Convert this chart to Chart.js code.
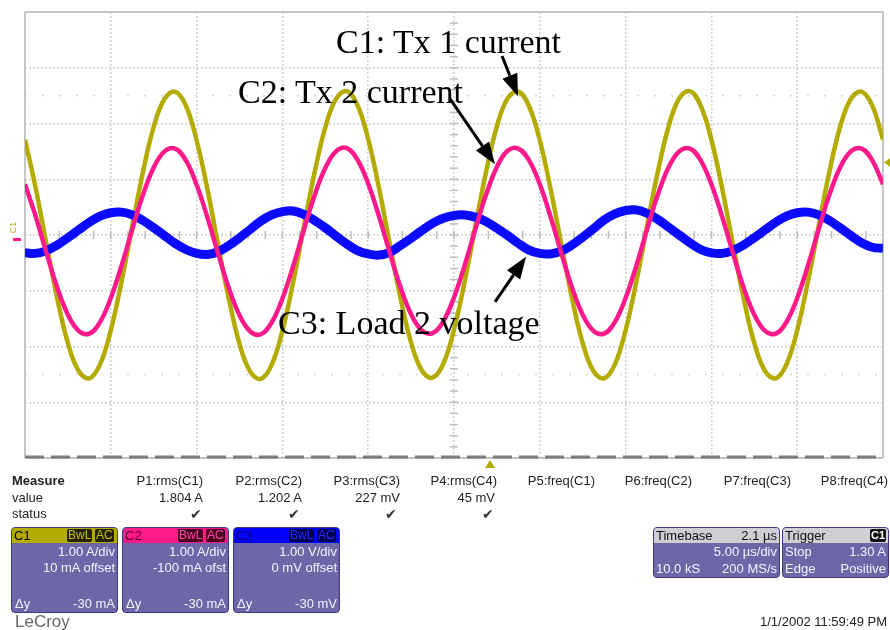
<!DOCTYPE html>
<html>
<head>
<meta charset="utf-8">
<script src="https://cdn.jsdelivr.net/npm/chart.js@4"></script>
<style>
  html,body{margin:0;padding:0;background:#fff;}
  #wrap{position:relative;width:890px;height:630px;overflow:hidden;background:#fff;}
  #c{position:absolute;left:0;top:0;}
  .ann{position:absolute;font-family:"Liberation Serif","Times New Roman",serif;font-size:34px;line-height:34px;color:#000;white-space:nowrap;}
  .ui{position:absolute;font-family:"Liberation Sans",Arial,sans-serif;font-size:13px;line-height:13px;color:#222;white-space:nowrap;}
  .r{text-align:right;}
  .box{position:absolute;background:#6d67a8;border:1px solid #3f3a85;border-radius:4px;overflow:hidden;}
  .hdr{position:absolute;left:0;right:0;top:0;height:15px;}
  .bt{position:absolute;font-family:"Liberation Sans",Arial,sans-serif;font-size:13px;line-height:13px;color:#f2f2ff;white-space:nowrap;}
  .badge{position:absolute;top:1px;height:13px;font-family:"Liberation Sans",Arial,sans-serif;font-size:12px;line-height:13px;padding:0 1px;border-radius:2px;}
</style>
</head>
<body>
<div id="wrap">
<canvas id="c" width="890" height="630"></canvas>

<!-- clipped caption above plot -->
<div class="ann" style="left:433px;top:-36px;">(c)</div>

<!-- annotations -->
<div class="ann" style="left:336px;top:25px;">C1: Tx 1 current</div>
<div class="ann" style="left:238px;top:75px;">C2: Tx 2 current</div>
<div class="ann" style="left:278px;top:306px;">C3: Load 2 voltage</div>

<!-- left channel markers -->
<div class="ui" style="left:8px;top:223px;font-size:9px;line-height:9px;color:#b0a800;transform:rotate(-90deg);">C1</div>
<div style="position:absolute;left:13px;top:238px;width:8px;height:3px;background:#ff1a8c;"></div>

<!-- measure panel -->
<div class="ui" style="left:12px;top:474px;font-weight:bold;">Measure</div>
<div class="ui" style="left:12px;top:491px;">value</div>
<div class="ui" style="left:12px;top:507px;">status</div>

<div class="ui r" style="right:687px;top:474px;">P1:rms(C1)</div>
<div class="ui r" style="right:588px;top:474px;">P2:rms(C2)</div>
<div class="ui r" style="right:490px;top:474px;">P3:rms(C3)</div>
<div class="ui r" style="right:393px;top:474px;">P4:rms(C4)</div>
<div class="ui r" style="right:295px;top:474px;">P5:freq(C1)</div>
<div class="ui r" style="right:198px;top:474px;">P6:freq(C2)</div>
<div class="ui r" style="right:99px;top:474px;">P7:freq(C3)</div>
<div class="ui r" style="right:2px;top:474px;">P8:freq(C4)</div>

<div class="ui r" style="right:687px;top:491px;">1.804 A</div>
<div class="ui r" style="right:588px;top:491px;">1.202 A</div>
<div class="ui r" style="right:490px;top:491px;">227 mV</div>
<div class="ui r" style="right:395px;top:491px;">45 mV</div>

<div class="ui" style="left:190px;top:507px;font-family:'DejaVu Sans';font-size:14px;line-height:14px;color:#333;">✔</div>
<div class="ui" style="left:288px;top:507px;font-family:'DejaVu Sans';font-size:14px;line-height:14px;color:#333;">✔</div>
<div class="ui" style="left:385px;top:507px;font-family:'DejaVu Sans';font-size:14px;line-height:14px;color:#333;">✔</div>
<div class="ui" style="left:482px;top:507px;font-family:'DejaVu Sans';font-size:14px;line-height:14px;color:#333;">✔</div>

<!-- channel boxes -->
<div class="box" style="left:11px;top:527px;width:105px;height:84px;">
  <div class="hdr" style="background:#b3ab00;"></div>
  <div class="bt" style="left:2px;top:1px;color:#000;">C1</div>
  <div class="badge" style="left:55px;background:#222200;color:#c9c000;">BwL</div>
  <div class="badge" style="left:83px;background:#222200;color:#c9c000;">AC</div>
  <div class="bt r" style="right:2px;top:17px;">1.00 A/div</div>
  <div class="bt r" style="right:2px;top:33px;">10 mA offset</div>
  <div class="bt" style="left:3px;top:69px;">Δy</div>
  <div class="bt r" style="right:2px;top:69px;">-30 mA</div>
</div>
<div class="box" style="left:122px;top:527px;width:105px;height:84px;">
  <div class="hdr" style="background:#ff1a8c;"></div>
  <div class="bt" style="left:2px;top:1px;color:#5a0030;">C2</div>
  <div class="badge" style="left:55px;background:#4a0020;color:#ff4aa8;">BwL</div>
  <div class="badge" style="left:83px;background:#4a0020;color:#ff4aa8;">AC</div>
  <div class="bt r" style="right:2px;top:17px;">1.00 A/div</div>
  <div class="bt r" style="right:2px;top:33px;">-100 mA ofst</div>
  <div class="bt" style="left:3px;top:69px;">Δy</div>
  <div class="bt r" style="right:2px;top:69px;">-30 mA</div>
</div>
<div class="box" style="left:233px;top:527px;width:105px;height:84px;">
  <div class="hdr" style="background:#0000ff;"></div>
  <div class="bt" style="left:2px;top:1px;color:#000070;">C3</div>
  <div class="badge" style="left:55px;background:#000050;color:#2a2aff;">BwL</div>
  <div class="badge" style="left:83px;background:#000050;color:#2a2aff;">AC</div>
  <div class="bt r" style="right:2px;top:17px;">1.00 V/div</div>
  <div class="bt r" style="right:2px;top:33px;">0 mV offset</div>
  <div class="bt" style="left:3px;top:69px;">Δy</div>
  <div class="bt r" style="right:2px;top:69px;">-30 mV</div>
</div>

<!-- timebase / trigger -->
<div class="box" style="left:653px;top:527px;width:125px;height:49px;">
  <div class="hdr" style="background:#cfcfd4;"></div>
  <div class="bt" style="left:2px;top:1px;color:#111;">Timebase</div>
  <div class="bt r" style="right:2px;top:1px;color:#111;">2.1 µs</div>
  <div class="bt r" style="right:2px;top:17px;">5.00 µs/div</div>
  <div class="bt" style="left:2px;top:34px;">10.0 kS</div>
  <div class="bt r" style="right:2px;top:34px;">200 MS/s</div>
</div>
<div class="box" style="left:782px;top:527px;width:105px;height:49px;">
  <div class="hdr" style="background:#cfcfd4;"></div>
  <div class="bt" style="left:2px;top:1px;color:#111;">Trigger</div>
  <div class="badge" style="right:2px;background:#111;color:#fff;font-weight:bold;font-size:11px;">C1</div>
  <div class="bt" style="left:2px;top:17px;">Stop</div>
  <div class="bt r" style="right:2px;top:17px;">1.30 A</div>
  <div class="bt" style="left:2px;top:34px;">Edge</div>
  <div class="bt r" style="right:2px;top:34px;">Positive</div>
</div>

<div class="ui" style="left:15px;top:613px;font-size:17px;line-height:17px;color:#666;">LeCroy</div>
<div class="ui r" style="right:3px;top:615px;">1/1/2002 11:59:49 PM</div>
</div>

<script>
// ---- data (time in µs, values in A for C1/C2 and V for C3; 1 unit = 1 div) ----
const timeUs = [
  0,0.625,1.25,1.875,2.5,3.125,3.75,4.375,5,5.625,6.25,6.875,7.5,8.125,8.75,9.375,
  10,10.625,11.25,11.875,12.5,13.125,13.75,14.375,15,15.625,16.25,16.875,17.5,18.125,18.75,19.375,
  20,20.625,21.25,21.875,22.5,23.125,23.75,24.375,25,25.625,26.25,26.875,27.5,28.125,28.75,29.375,
  30,30.625,31.25,31.875,32.5,33.125,33.75,34.375,35,35.625,36.25,36.875,37.5,38.125,38.75,39.375,
  40,40.625,41.25,41.875,42.5,43.125,43.75,44.375,45,45.625,46.25,46.875,47.5,48.125,48.75,49.375,
  50
];
const c1TxCurrent1 = [
  1.71,0.84,-0.16,-1.13,-1.94,-2.44,-2.57,-2.32,-1.71,-0.84,0.16,1.13,1.94,2.44,2.57,2.32,
  1.70,0.83,-0.17,-1.14,-1.95,-2.45,-2.58,-2.33,-1.72,-0.85,0.15,1.12,1.93,2.44,2.58,2.33,
  1.72,0.85,-0.15,-1.12,-1.93,-2.43,-2.56,-2.31,-1.70,-0.83,0.17,1.14,1.95,2.45,2.57,2.31,
  1.70,0.83,-0.16,-1.13,-1.94,-2.44,-2.57,-2.32,-1.71,-0.84,0.16,1.13,1.94,2.45,2.58,2.32,
  1.71,0.84,-0.16,-1.13,-1.94,-2.44,-2.57,-2.32,-1.71,-0.84,0.16,1.13,1.94,2.44,2.57,2.32,
  1.71
];
const c2TxCurrent2 = [
  0.91,0.33,-0.32,-0.94,-1.43,-1.72,-1.77,-1.56,-1.13,-0.55,0.10,0.72,1.21,1.50,1.55,1.34,
  0.90,0.32,-0.33,-0.95,-1.44,-1.73,-1.78,-1.57,-1.14,-0.56,0.09,0.71,1.20,1.50,1.56,1.35,
  0.92,0.34,-0.31,-0.93,-1.42,-1.71,-1.76,-1.55,-1.12,-0.54,0.11,0.73,1.22,1.51,1.55,1.34,
  0.91,0.33,-0.32,-0.94,-1.43,-1.72,-1.77,-1.56,-1.13,-0.55,0.10,0.72,1.21,1.50,1.55,1.34,
  0.91,0.33,-0.32,-0.94,-1.43,-1.72,-1.77,-1.56,-1.13,-0.55,0.10,0.72,1.21,1.50,1.55,1.34,
  0.91
];
const c3LoadVoltage2 = [
  -0.32,-0.33,-0.28,-0.18,-0.05,0.09,0.23,0.34,0.40,0.41,0.36,0.26,0.13,-0.01,-0.15,-0.26,
  -0.33,-0.35,-0.30,-0.19,-0.05,0.10,0.25,0.36,0.42,0.43,0.37,0.26,0.13,-0.02,-0.16,-0.28,
  -0.34,-0.36,-0.31,-0.19,-0.06,0.08,0.21,0.30,0.35,0.36,0.32,0.24,0.12,-0.01,-0.15,-0.27,
  -0.33,-0.34,-0.29,-0.18,-0.04,0.11,0.27,0.38,0.44,0.45,0.39,0.28,0.14,0.00,-0.14,-0.26,
  -0.32,-0.33,-0.28,-0.18,-0.05,0.09,0.23,0.34,0.40,0.41,0.36,0.26,0.13,-0.01,-0.14,-0.22,
  -0.24
];
const triggerLevelA = 1.30;     // trigger level marker (C1)
const triggerTimeUs = 27.1;     // trigger position marker (centre + 2.1 µs)
// annotation arrows in data units: [tStart, vStart, tEnd, vEnd]
const arrowC1 = [27.80, 3.21, 28.73, 2.49];
const arrowC2 = [24.77, 2.44, 27.39, 1.27];
const arrowC3 = [27.39, -1.20, 29.20, -0.39];

const pts = vals => timeUs.map((t, i) => ({x: t, y: vals[i]}));

const scopePlugin = {
  id: 'scope',
  beforeDatasetsDraw(chart) {
    const {ctx, chartArea: a, scales: {x, y}} = chart;
    const line = (x1, y1, x2, y2) => { ctx.beginPath(); ctx.moveTo(x1, y1); ctx.lineTo(x2, y2); ctx.stroke(); };
    ctx.save();
    // faint dotted lines at ±2.5 div
    ctx.strokeStyle = '#d4d4d4'; ctx.lineWidth = 1.5; ctx.setLineDash([2, 15]);
    [2.5, -2.5].forEach(v => { const py = y.getPixelForValue(v); line(a.left, py, a.right, py); });
    // centre axis minor ticks
    ctx.setLineDash([]); ctx.strokeStyle = '#bdbdbd'; ctx.lineWidth = 1.5;
    const cx = x.getPixelForValue(25), cy = y.getPixelForValue(0);
    for (let i = -20; i <= 20; i++) { const py = y.getPixelForValue(i * 0.2); line(cx - 4, py, cx + 4, py); }
    for (let i = 0; i <= 50; i++) { const px = x.getPixelForValue(i); line(px, cy - 4, px, cy + 4); }
    // frame
    ctx.strokeStyle = '#c6c6c6'; ctx.lineWidth = 2;
    line(a.left, a.top, a.right, a.top);
    line(a.left, a.top, a.left, a.bottom);
    line(a.right, a.top, a.right, a.bottom);
    // bottom dashed edge
    ctx.strokeStyle = '#c0c0c0'; ctx.lineWidth = 2;
    line(a.left, a.bottom, a.right, a.bottom);
    ctx.strokeStyle = '#7d7d7d'; ctx.lineWidth = 3; ctx.setLineDash([19, 7]);
    line(a.left, a.bottom - 1, a.right, a.bottom - 1);
    ctx.restore();
  },
  afterDatasetsDraw(chart) {
    const {ctx, chartArea: a, scales: {x, y}} = chart;
    ctx.save();
    const arrow = (d) => {
      const x1 = x.getPixelForValue(d[0]), y1 = y.getPixelForValue(d[1]);
      const x2 = x.getPixelForValue(d[2]), y2 = y.getPixelForValue(d[3]);
      const ang = Math.atan2(y2 - y1, x2 - x1), hl = 22, hw = 8;
      const bx = x2 - hl * Math.cos(ang), by = y2 - hl * Math.sin(ang);
      ctx.strokeStyle = '#000'; ctx.lineWidth = 3;
      ctx.beginPath(); ctx.moveTo(x1, y1); ctx.lineTo(bx, by); ctx.stroke();
      ctx.fillStyle = '#000';
      ctx.beginPath();
      ctx.moveTo(x2, y2);
      ctx.lineTo(bx + hw * Math.sin(ang), by - hw * Math.cos(ang));
      ctx.lineTo(bx - hw * Math.sin(ang), by + hw * Math.cos(ang));
      ctx.closePath(); ctx.fill();
    };
    arrow(arrowC1); arrow(arrowC2); arrow(arrowC3);
    // trigger level marker (right edge)
    ctx.fillStyle = '#b3ab00';
    const ty = y.getPixelForValue(triggerLevelA);
    ctx.beginPath(); ctx.moveTo(a.right + 1, ty); ctx.lineTo(a.right + 8, ty - 5); ctx.lineTo(a.right + 8, ty + 5); ctx.closePath(); ctx.fill();
    // trigger time marker (below plot)
    const tx = x.getPixelForValue(triggerTimeUs);
    ctx.beginPath(); ctx.moveTo(tx, a.bottom + 2); ctx.lineTo(tx - 5, a.bottom + 10); ctx.lineTo(tx + 5, a.bottom + 10); ctx.closePath(); ctx.fill();
    ctx.restore();
  }
};

const gridCfg = {color: '#d0d0d0', lineWidth: 1.5, drawTicks: false};

new Chart(document.getElementById('c'), {
  type: 'line',
  data: {
    datasets: [
      {label: 'C2: Tx 2 current', data: pts(c2TxCurrent2), borderColor: '#ff1a8c', borderWidth: 4.5, tension: 0.4, order: 1},
      {label: 'C3: Load 2 voltage', data: pts(c3LoadVoltage2), borderColor: '#0a0aff', borderWidth: 9, tension: 0.4, order: 2},
      {label: 'C1: Tx 1 current', data: pts(c1TxCurrent1), borderColor: '#b3ab00', borderWidth: 4.5, tension: 0.4, order: 3}
    ]
  },
  options: {
    responsive: false,
    animation: false,
    devicePixelRatio: 1,
    layout: {padding: {left: 25, right: 7, top: 12, bottom: 172}},
    elements: {point: {radius: 0}},
    plugins: {legend: {display: false}, tooltip: {enabled: false}},
    scales: {
      x: {type: 'linear', min: 0, max: 50, ticks: {display: false, stepSize: 5}, grid: gridCfg, border: {display: false, dash: [2, 2]}},
      y: {type: 'linear', min: -4, max: 4, ticks: {display: false, stepSize: 1}, grid: gridCfg, border: {display: false, dash: [2, 2]}}
    }
  },
  plugins: [scopePlugin]
});
</script>
</body>
</html>
